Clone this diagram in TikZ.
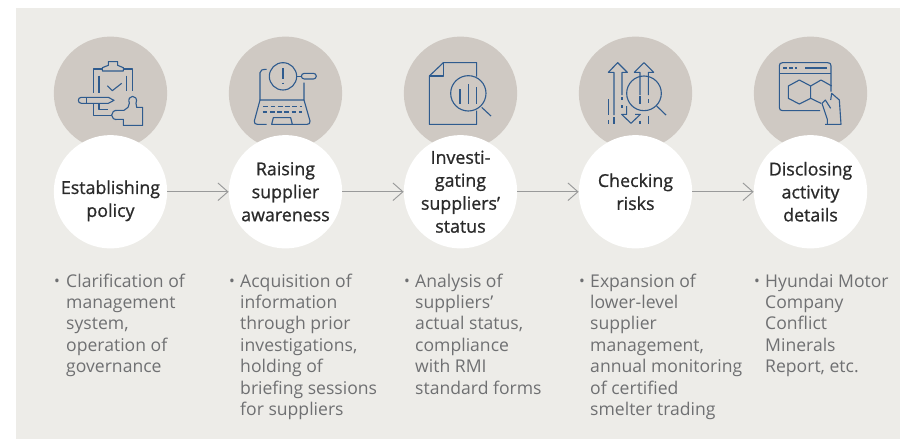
\documentclass[tikz,border=0pt]{standalone}
\usepackage{fontspec}
\setmainfont{Open Sans}
\newfontfamily\titlefont[FakeBold=0.9]{Open Sans}
\usetikzlibrary{matrix,arrows.meta}
\definecolor{panelgrey}{HTML}{EDECE8}
\definecolor{discgrey}{HTML}{CFC9C3}
\definecolor{iconblue}{HTML}{2F5B8E}
\definecolor{bodygrey}{HTML}{6F7072}
\definecolor{titleink}{HTML}{2A2A2A}
\definecolor{flowgrey}{HTML}{999A9A}
\tikzset{
  bodytext/.style={anchor=north west,inner sep=0pt,align=left,text=bodygrey,font=\fontsize{15}{18.25}\selectfont},
  bullet/.style={inner sep=0pt,text=bodygrey,font=\fontsize{13.1}{18.25}\selectfont},
  icon/.style={draw=iconblue,line width=0.95pt,line join=round,fill=none},
  flow/.style={draw=flowgrey,line width=0.8pt},
}
\begin{document}
\begin{tikzpicture}[x=0.03cm,y=-0.03cm,>={Straight Barb[length=8.5pt,width=15pt]},->]
\useasboundingbox (0,0) rectangle (900,439);
\fill[panelgrey] (16,8) rectangle (900,439);
\matrix (steps) at (460.5,142.5) [column sep={5.25cm,between origins}, row sep={2.955cm,between origins},
  nodes={circle,minimum size=3.4cm,inner sep=-14pt,align=center,text=titleink,font=\titlefont\fontsize{15.2}{19.6}\selectfont},
  row 1/.style={nodes={fill=discgrey}}, row 2/.style={nodes={fill=white}}]
{
\node (D1) {}; & \node (D2) {}; & \node (D3) {}; & \node (D4) {}; & \node (D5) {}; \\
\node (A1) {\rule{0pt}{27pt}Establishing\\policy}; & \node (A2) {Raising\\supplier\\awareness}; & \node (A3) {Investi-\\gating\\suppliers’\\status}; & \node (A4) {Checking\\risks}; & \node (A5) {Disclosing\\activity\\details}; \\
};
\draw[flow] (A1) to (A2);
\draw[flow] (A2) to (A3);
\draw[flow] (A3) to (A4);
\draw[flow] (A4) to (A5);

\begin{scope}[shift={(40,20)},scale=1/3,-]
\draw[icon] (160,218) -- (160,147) -- (187,147);
\draw[icon] (252,147) -- (278,147) -- (278,212);
\draw[icon] (187,153) -- (187,143) -- (205,136) -- (205,125) -- (233,125) -- (233,136) -- (250,143) -- (250,153) -- cycle;
\draw[icon] (177,167) -- (177,218);
\draw[icon] (260,167) -- (260,212);
\draw[icon] (202,197) -- (217,212) -- (245,190);
\draw[icon] (222,241) -- (205,232) -- (124,232) .. controls (112,232) and (112,250) .. (124,250) -- (205,250) -- cycle;
\draw[icon] (140,232) -- (140,250);
\draw[icon] (160,252) -- (160,287) -- (215,287);
\draw[icon] (177,252) -- (177,268) -- (205,268);
\draw[icon] (235,271) -- (252,271) -- (264,262) -- (268,250) .. controls (258,222) and (298,222) .. (288,250) -- (290,262) -- (308,262) -- (308,316) -- (250,316) -- (250,298) -- (236,298) .. controls (208,304) and (208,268) .. (235,271);

\draw[icon] (660,240) -- (660,158) .. controls (660,150) and (668,148) .. (680,148);
\draw[icon] (729,169) circle [radius=41];
\draw[icon] (770,169) -- (785,169);
\draw[icon,rounded corners=2.5pt] (784,160) rectangle (829,177);
\draw[icon] (729,145) -- (729,178);
\draw[icon] (729,188) -- (729,193);
\draw[icon] (792,188) -- (792,240) -- (660,240) -- (643,303) .. controls (642,310) and (646,313) .. (652,313) -- (680,313);
\draw[icon] (792,240) -- (810,303) .. controls (811,310) and (807,313) .. (801,313) -- (695,313) -- (700,293) -- (752,293) -- (757,313);
\draw[icon,dash pattern=on 4pt off 2.2pt] (670,259) -- (785,259);
\draw[icon,dash pattern=on 4pt off 2.2pt] (668,276) -- (787,276);
\end{scope}

\begin{scope}[shift={(390,20)},scale=1/3,-]
\draw[icon] (260,170) -- (260,128) -- (160,128) -- (118,168) -- (118,313) -- (260,313) -- (260,272);
\draw[icon] (118,168) -- (160,168) -- (160,128);
\draw[icon] (235,220) circle [radius=53];
\draw[icon] (210,208) -- (210,252);
\draw[icon] (235,192) -- (235,252);
\draw[icon] (260,202) -- (260,252);
\draw[icon] (275,262) -- (303,288);

\draw[icon] (672,285) -- (672,157) -- (655,157) -- (683,128) -- (712,157) -- (696,157) -- (696,225);
\draw[icon] (696,230) -- (696,240);
\draw[icon] (696,255) -- (696,264);
\draw[icon] (750,225) -- (750,157) -- (733,157) -- (762,128) -- (791,157) -- (775,157) -- (775,225);
\draw[icon] (750,228) -- (750,252);
\draw[icon] (775,238) -- (775,248);
\draw[icon] (750,302) -- (750,313);
\draw[icon] (775,288) -- (775,313);
\draw[icon] (710,258) -- (710,283) -- (695,283) -- (723,310) -- (751,283) -- (735,283);
\draw[icon] (762,220) circle [radius=52];
\draw[icon] (800,258) -- (828,285);
\draw[icon] (655,237) -- (655,285);
\draw[icon] (655,300) -- (655,313);
\draw[icon] (672,292) -- (672,313);
\end{scope}

\begin{scope}[shift={(740,20)},scale=1/3,-]
\draw[icon] (240,272) -- (128,272) .. controls (121,272) and (118,269) .. (118,262) -- (118,138) .. controls (118,131) and (121,128) .. (128,128) -- (263,128) .. controls (270,128) and (273,131) .. (273,138) -- (273,215);
\draw[icon] (118,160) -- (273,160);
\draw[icon,dash pattern=on 3pt off 2pt] (130,144) -- (172,144);
\draw[icon] (195,144) -- (262,144);
\draw[icon] (178,180) -- (212,198) -- (212,235) -- (178,252) -- (145,235) -- (145,198) -- cycle;
\draw[icon] (212,198) -- (243,180) -- (275,198);
\draw[icon] (212,235) -- (243,250);
\draw[icon] (272,265) -- (256,240) -- (246,250) -- (262,298) -- (262,313);
\draw[icon] (272,240) -- (275,220) -- (298,240) -- (303,313) -- (255,313);
\end{scope}

\node[bullet] (B1) at (57,283) {•};
\node[bullet] (B2) at (232,283) {•};
\node[bullet] (B3) at (407,283) {•};
\node[bullet] (B4) at (582,283) {•};
\node[bullet] (B5) at (757,283) {•};
\node[bodytext] (T1) at (66,273.5) {Clarification of\\management\\system,\\operation of\\governance};
\node[bodytext] (T2) at (240,273.5) {Acquisition of\\information\\through prior\\investigations,\\holding of\\briefing sessions\\for suppliers};
\node[bodytext] (T3) at (415,273.5) {Analysis of\\suppliers’\\actual status,\\compliance\\with RMI\\standard forms};
\node[bodytext] (T4) at (590,273.5) {Expansion of\\lower-level\\supplier\\management,\\annual monitoring\\of certified\\smelter trading};
\node[bodytext] (T5) at (765,273.5) {Hyundai Motor\\Company\\Conflict\\Minerals\\Report, etc.};
\end{tikzpicture}
\end{document}
